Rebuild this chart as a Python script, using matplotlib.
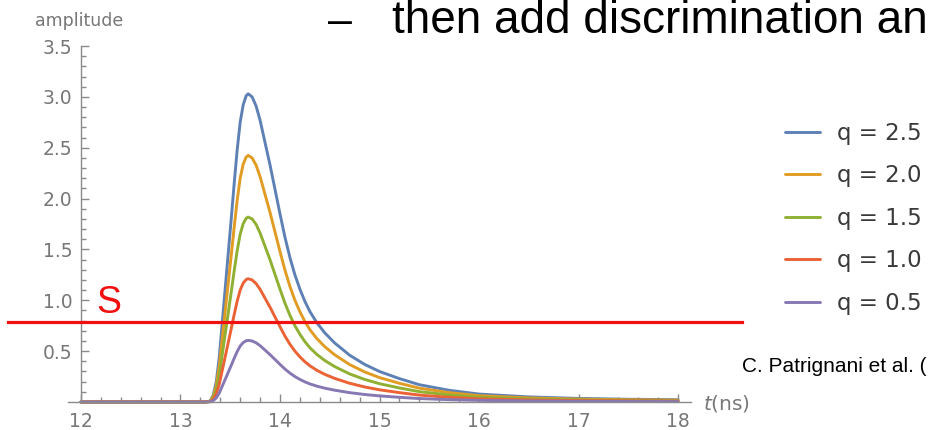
import matplotlib
matplotlib.use('Agg')
import matplotlib.pyplot as plt
from matplotlib.ticker import FixedLocator, MultipleLocator

plt.rcParams['font.family'] = ['DejaVu Sans']
plt.rcParams['mathtext.fontset'] = 'dejavusans'

# ---- data ----
t_ns = [12.00, 13.25, 13.30, 13.33, 13.36, 13.39, 13.42, 13.45, 13.48, 13.51,
        13.54, 13.57, 13.60, 13.63, 13.66, 13.68, 13.72, 13.76, 13.80, 13.85,
        13.90, 13.95, 14.00, 14.05, 14.10, 14.15, 14.20, 14.25, 14.30, 14.37,
        14.45, 14.55, 14.70, 14.85, 15.00, 15.20, 15.40, 15.70, 16.00, 16.50,
        17.00, 17.50, 18.00]

amp_q25 = [0, 0, 0.01, 0.07, 0.20, 0.44, 0.78, 1.12, 1.46, 1.80,
           2.15, 2.48, 2.75, 2.92, 3.01, 3.03, 3.00, 2.91, 2.77, 2.55,
           2.33, 2.09, 1.85, 1.62, 1.42, 1.25, 1.11, 0.99, 0.89, 0.78,
           0.68, 0.58, 0.46, 0.37, 0.30, 0.23, 0.17, 0.115, 0.078, 0.050,
           0.035, 0.027, 0.022]

amp_q20 = [0, 0, 0.008, 0.056, 0.16, 0.352, 0.624, 0.896, 1.168, 1.44,
           1.72, 1.984, 2.2, 2.336, 2.408, 2.424, 2.40, 2.328, 2.216, 2.04,
           1.864, 1.672, 1.48, 1.296, 1.136, 1.0, 0.888, 0.792, 0.712, 0.624,
           0.544, 0.464, 0.368, 0.296, 0.24, 0.184, 0.136, 0.092, 0.062, 0.04,
           0.028, 0.022, 0.018]

amp_q15 = [0, 0, 0.006, 0.042, 0.12, 0.264, 0.468, 0.672, 0.876, 1.08,
           1.29, 1.488, 1.65, 1.752, 1.806, 1.818, 1.80, 1.746, 1.662, 1.53,
           1.398, 1.254, 1.11, 0.972, 0.852, 0.75, 0.666, 0.594, 0.534, 0.468,
           0.408, 0.348, 0.276, 0.222, 0.18, 0.138, 0.102, 0.069, 0.047, 0.03,
           0.021, 0.016, 0.013]

amp_q10 = [0, 0, 0.004, 0.028, 0.08, 0.176, 0.312, 0.448, 0.584, 0.72,
           0.86, 0.992, 1.1, 1.168, 1.204, 1.212, 1.20, 1.164, 1.108, 1.02,
           0.932, 0.836, 0.74, 0.648, 0.568, 0.5, 0.444, 0.396, 0.356, 0.312,
           0.272, 0.232, 0.184, 0.148, 0.12, 0.092, 0.068, 0.046, 0.031, 0.02,
           0.014, 0.011, 0.009]

amp_q05 = [0, 0, 0.002, 0.014, 0.04, 0.088, 0.156, 0.224, 0.292, 0.36,
           0.43, 0.496, 0.55, 0.584, 0.602, 0.606, 0.60, 0.582, 0.554, 0.51,
           0.466, 0.418, 0.37, 0.324, 0.284, 0.25, 0.222, 0.198, 0.178, 0.156,
           0.136, 0.116, 0.092, 0.074, 0.06, 0.046, 0.034, 0.023, 0.016, 0.01,
           0.007, 0.005, 0.004]

series = [amp_q25, amp_q20, amp_q15, amp_q10, amp_q05]
labels = ['q = 2.5', 'q = 2.0', 'q = 1.5', 'q = 1.0', 'q = 0.5']
colors = ['#5E81B5', '#E19C24', '#8FB032', '#EB6235', '#8778B3']

threshold = 0.785
x_ticks = [12, 13, 14, 15, 16, 17, 18]
y_ticks = [0.5, 1.0, 1.5, 2.0, 2.5, 3.0, 3.5]

# ---- figure ----
W, H = 931, 430
fig = plt.figure(figsize=(W / 100, H / 100), dpi=100)
ax = fig.add_axes([68 / W, 28 / H, 623 / W, 356 / H])
ax.set_xlim(11.87, 18.13)
ax.set_ylim(0, 3.5)

lines = []
for ys, lab, col in zip(series, labels, colors):
    ln, = ax.plot(t_ns, ys, color=col, lw=2.1, label=lab, clip_on=False,
                  solid_capstyle='round', solid_joinstyle='round')
    lines.append(ln)

axis_col = '#8a8a8a'
lab_col = '#777777'
for s in ['top', 'right']:
    ax.spines[s].set_visible(False)
ax.spines['left'].set_position(('data', 12))
ax.spines['bottom'].set_position(('data', 0))
for s in ['left', 'bottom']:
    ax.spines[s].set_color(axis_col)
    ax.spines[s].set_linewidth(1.0)

ax.xaxis.set_major_locator(FixedLocator(x_ticks))
ax.xaxis.set_minor_locator(MultipleLocator(0.2))
ax.yaxis.set_major_locator(FixedLocator(y_ticks))
ax.yaxis.set_minor_locator(MultipleLocator(0.1))
ax.set_xticklabels([str(v) for v in x_ticks])
ax.set_yticklabels(['%.1f' % v for v in y_ticks])
ax.tick_params(which='both', direction='in', color=axis_col, width=1.0)
ax.tick_params(which='major', length=6)
ax.tick_params(which='minor', length=3.3)
ax.tick_params(axis='x', which='major', pad=7, labelsize=13.5, labelcolor=lab_col)
ax.tick_params(axis='y', which='major', pad=6, labelsize=13.5, labelcolor=lab_col)

# threshold line S
ax.axhline(threshold, xmin=(8 - 68) / 623, xmax=(742 - 68) / 623,
           color='#F01010', lw=2.3, clip_on=False, zorder=10)
fig.text(96 / W, 1 - 313 / H, 'S', color='#F01010', fontsize=27,
         ha='left', va='baseline', family='Liberation Sans')

# axis labels
fig.text(35 / W, 1 - 26 / H, 'amplitude', color=lab_col, fontsize=12.5,
         ha='left', va='baseline')
fig.text(703 / W, 1 - 404 / H, r'$t$(ns)', color=lab_col, fontsize=14.5,
         ha='left', va='center')

# legend
leg = fig.legend(handles=lines, labels=labels, loc='upper left',
                 bbox_to_anchor=(785 / W, 1 - 122 / H), frameon=False,
                 fontsize=16.5, handlelength=1.52, handletextpad=0.75,
                 labelspacing=0.85, borderpad=0, borderaxespad=0)
for txt in leg.get_texts():
    txt.set_color('#3a3a3a')

# slide texts
fig.text(328 / W, 1 - 22 / H, '\u2013', color='black', fontsize=31,
         ha='left', va='center', family='Liberation Sans')
fig.text(392 / W, 1 - 33 / H, 'then add discrimination an', color='black',
         fontsize=33.0, ha='left', va='baseline', family='Liberation Sans')
fig.text(742 / W, 1 - 372 / H, 'C. Patrignani et al. (', color='black',
         fontsize=15, ha='left', va='baseline', family='Liberation Sans')

fig.savefig('out.png', dpi=100)
